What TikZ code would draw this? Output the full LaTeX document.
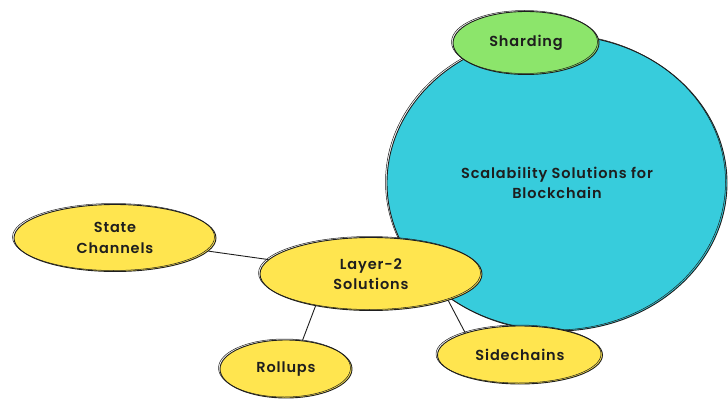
\documentclass[tikz,border=0pt]{standalone}
\usepackage{fontspec}
\setmainfont{Poppins}[BoldFont={Poppins SemiBold}, LetterSpace=6]
\usetikzlibrary{shapes.geometric}
\definecolor{bubbleyellow}{HTML}{FFE54F}
\definecolor{shardgreen}{HTML}{8CE56B}
\definecolor{chaincyan}{HTML}{37CCDC}
\definecolor{inkdark}{HTML}{1E1E1E}

\begin{document}
\begin{tikzpicture}[x=1pt,y=-1pt]
	\tikzstyle{every node}+=[inner sep=0pt]
	\tikzstyle{bubble}=[ellipse, draw=inkdark, line width=0.9pt, text=inkdark, align=center,
		font=\bfseries\fontsize{14.5}{20.5}\selectfont,
		postaction={draw=inkdark, line width=0.5pt, transform canvas={xshift=-1.5pt, yshift=1pt}}]
	\tikzstyle{link}=[draw=inkdark, line width=0.9pt]
	\useasboundingbox (0,0) rectangle (728,401);
	% big circle first, the rest sits on top
	\node [bubble, fill=chaincyan, minimum width=340, minimum height=296] (scale) at (557,183) {Scalability Solutions for\\Blockchain};
	\node [bubble, fill=shardgreen, minimum width=146, minimum height=63] (shard) at (526,43) {Sharding};
	\node [bubble, fill=bubbleyellow, minimum width=202, minimum height=67] (state) at (115,238) {State\\Channels};
	\node [bubble, fill=bubbleyellow, minimum width=222, minimum height=73] (layer) at (371,274) {Layer-2\\Solutions};
	\node [bubble, fill=bubbleyellow, minimum width=132, minimum height=58] (roll) at (286,369) {Rollups};
	\node [bubble, fill=bubbleyellow, minimum width=165, minimum height=58] (side) at (520,355) {Sidechains};
	\draw [link] (state) -- (layer);
	\draw [link] (layer.210) -- (roll.60);
	\draw [link] (layer.-19) -- (side.158);
\end{tikzpicture}
\end{document}
